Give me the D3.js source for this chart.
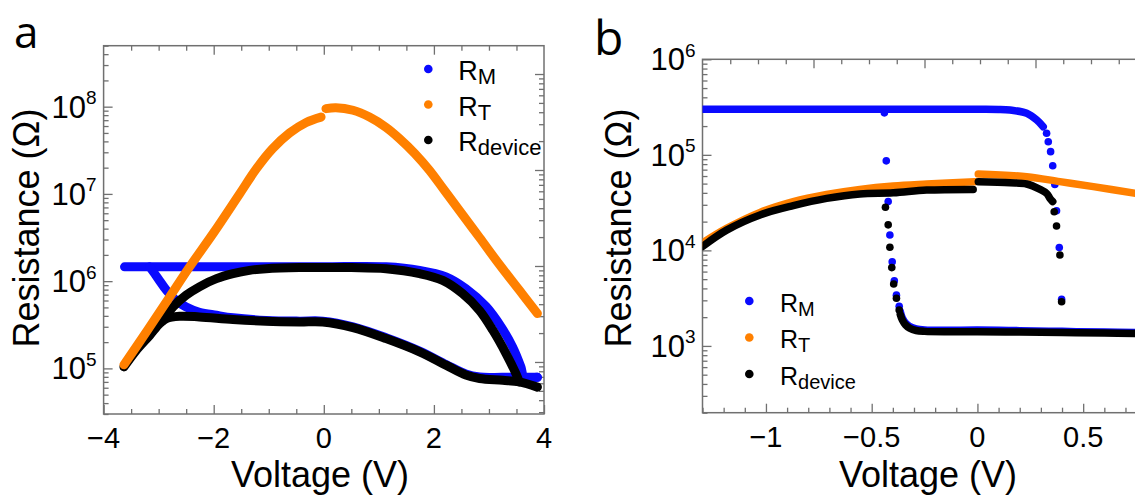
<!DOCTYPE html>
<html>
<head>
<meta charset="utf-8">
<script src="https://cdn.jsdelivr.net/npm/d3@7"></script>
<style>
body{margin:0;background:#fff;}
svg{display:block;font-family:"Liberation Sans",Arial,sans-serif;}
.frame{fill:none;stroke:#707070;stroke-width:1.5;}
.ticks line{stroke:#707070;stroke-width:1.3;}
.curve{fill:none;stroke-linecap:round;stroke-linejoin:round;}
</style>
</head>
<body>
<svg width="1135" height="495"></svg>
<script>
// panel a, [voltage V, resistance ohm]
var aRT_neg = [[-3.63,1.1e5],[-3.2,2.75e5],[-2.8,6.6e5],[-2.44,1.45e6],[-2.0,3.6e6],[-1.53,1.0e7],
               [-1.23,1.92e7],[-0.93,3.3e7],[-0.62,5.0e7],[-0.32,6.6e7],[-0.05,7.6e7]];
var aRT_pos = [[0.04,9.5e7],[0.22,9.75e7],[0.53,9.1e7],[0.83,7.6e7],[1.13,5.8e7],[1.37,4.34e7],
               [1.65,2.92e7],[1.92,1.86e7],[2.19,1.1e7],[2.46,6.5e6],[2.83,3.15e6],[3.19,1.55e6],
               [3.55,7.9e5],[3.88,4.26e5]];
var aRM_set = [[-3.62,1.46e6],[-2.5,1.46e6],[-1.0,1.46e6],[0.0,1.46e6],[1.13,1.46e6],[1.74,1.33e6],
               [2.22,1.12e6],[2.58,8.2e5],[2.95,5.1e5],[3.22,3.0e5],[3.43,1.76e5],[3.58,1.04e5],
               [3.64,8.0e4],[3.88,7.9e4]];
var aRM_reset = [[-3.16,1.46e6],[-3.01,1.07e6],[-2.86,7.9e5],[-2.68,6.0e5],[-2.5,5.06e5],[-2.26,4.4e5],
                 [-1.95,4.06e5],[-1.65,3.8e5],[-1.05,3.55e5],[-0.44,3.48e5],[-0.02,3.48e5],[0.53,3.0e5],
                 [1.13,2.25e5],[1.74,1.58e5],[2.22,1.11e5],[2.58,8.6e4],[2.83,7.95e4],[3.25,7.9e4],[3.88,7.9e4]];
var aRdev_lo = [[-3.63,1.04e5],[-3.41,1.6e5],[-3.16,2.4e5],[-2.98,3.27e5],[-2.86,3.73e5],[-2.62,3.96e5],
                [-2.26,3.89e5],[-1.65,3.63e5],[-1.05,3.47e5],[-0.44,3.41e5],[-0.02,3.41e5],[0.53,2.94e5],
                [1.13,2.2e5],[1.74,1.55e5],[2.22,1.09e5],[2.58,8.4e4],[2.83,7.66e4],[3.25,7.3e4],
                [3.55,7.0e4],[3.88,6.1e4]];
var aRdev_hi = [[-2.93,3.5e5],[-2.74,5.06e5],[-2.5,6.9e5],[-2.26,8.6e5],[-1.95,1.07e6],[-1.65,1.22e6],
                [-1.35,1.33e6],[-1.05,1.39e6],[-0.44,1.43e6],[0.5,1.43e6],[1.13,1.39e6],[1.74,1.22e6],
                [2.16,1.02e6],[2.52,7.2e5],[2.83,4.6e5],[3.07,2.74e5],[3.31,1.48e5],[3.49,8.7e4],[3.55,7.0e4]];

// panel b
var bRM_hi = [[-1.3,3.0e5],[-0.8,3.0e5],[-0.3,3.0e5],[0.0,3.0e5],[0.1,2.99e5],[0.154,2.94e5],
              [0.233,2.72e5],[0.28,2.32e5],[0.311,1.97e5]];
var bRM_lo = [[-0.365,2.3e3],[-0.355,1.95e3],[-0.34,1.74e3],[-0.32,1.6e3],[-0.29,1.51e3],[-0.25,1.47e3],
              [-0.15,1.455e3],[0,1.465e3],[0.2,1.445e3],[0.4,1.42e3],[0.6,1.395e3],[0.76,1.38e3]];
var bRM_dots = [[-0.44,2.75e5],[-0.431,8.65e4],[-0.422,3.24e4],[-0.414,1.45e4],[-0.403,7.6e3],
                [-0.393,4.8e3],[-0.383,3.4e3],[-0.37,2.6e3],[0.327,1.68e5],[0.335,1.37e5],[0.346,1.08e5],
                [0.356,7.7e4],[0.366,4.9e4],[0.374,2.6e4],[0.387,1.07e4],[0.398,3.08e3]];
var bRT_neg = [[-1.3,1.2e4],[-1.186,1.7e4],[-1.028,2.5e4],[-0.871,3.24e4],[-0.713,3.85e4],
               [-0.556,4.35e4],[-0.398,4.72e4],[-0.24,4.95e4],[-0.012,5.24e4]];
var bRT_pos = [[0.004,6.3e4],[0.233,5.9e4],[0.39,5.24e4],[0.548,4.65e4],[0.75,3.94e4]];
var bRdev_neg = [[-1.3,1.1e4],[-1.186,1.63e4],[-1.028,2.35e4],[-0.871,2.94e4],[-0.713,3.5e4],
                 [-0.556,3.9e4],[-0.398,4.0e4],[-0.24,4.28e4],[-0.02,4.35e4]];
var bRdev_pos = [[0.004,5.24e4],[0.154,5.1e4],[0.233,4.95e4],[0.296,4.35e4],[0.327,3.95e4],
                 [0.343,3.5e4],[0.356,3.24e4]];
var bRdev_lo = [[-0.365,2.14e3],[-0.355,1.86e3],[-0.34,1.66e3],[-0.32,1.53e3],[-0.29,1.45e3],
                [-0.25,1.42e3],[-0.15,1.405e3],[0,1.41e3],[0.2,1.395e3],[0.4,1.38e3],[0.6,1.365e3],[0.76,1.35e3]];
var bRdev_dots = [[-0.435,2.83e4],[-0.422,1.85e4],[-0.414,1.08e4],[-0.405,6.6e3],[-0.396,4.45e3],
                  [-0.383,3.15e3],[-0.37,2.38e3],[0.363,2.54e4],[0.374,1.8e4],[0.39,8.95e3],[0.398,2.9e3]];

var aXTicks = [-4,-2,0,2,4];
var aYTicks = [1e5,1e6,1e7,1e8];
var bXTicks = [-1,-0.5,0,0.5];
var bYTicks = [1e3,1e4,1e5,1e6];
var legendSubs = ["M","T","device"];
var seriesColors = ["#0a0aff","#ff8000","#000000"];

var svg = d3.select("svg");

var makeTranslateString = function(x,y)
{
    return "translate("+x+","+y+")";
}
var fmtV = function(v)
{
    return (v<0?"\u2212":"")+Math.abs(v);
}
var logMinor = function(dom)
{
    var out=[];
    for(var e=Math.floor(Math.log10(dom[0]));e<=Math.ceil(Math.log10(dom[1]));e++)
    {
        for(var m=2;m<=9;m++)
        {
            var v=m*Math.pow(10,e);
            if(v>=dom[0]*0.999 && v<=dom[1]*1.001) out.push(v);
        }
    }
    return out;
}
var logMajor = function(dom)
{
    var out=[];
    for(var e=Math.ceil(Math.log10(dom[0])-1e-6);e<=Math.floor(Math.log10(dom[1])+1e-6);e++)
        out.push(Math.pow(10,e));
    return out;
}
var drawTicks = function(axis,translate)
{
    svg.append("g")
       .classed("ticks",true)
       .attr("transform",translate)
       .call(axis)
       .call(function(g){ g.select(".domain").remove(); g.selectAll("text").remove(); });
}
var lineFor = function(xs,ys)
{
    return d3.line()
        .x(function(d){ return xs(d[0]); })
        .y(function(d){ return ys(d[1]); })
        .curve(d3.curveCatmullRom.alpha(0.5));
}

var drawPanel = function(p)
{
    var x=p.x, y=p.y;
    var L=x.range()[0], R=x.range()[1], T=y.range()[1], B=y.range()[0];
    var xMinor=d3.range(x.domain()[0],x.domain()[1]+1e-9,p.xMinorStep)
        .filter(function(v){ return Math.abs(v/p.xMajorStep-Math.round(v/p.xMajorStep))>1e-6; });
    var xMajor=d3.range(Math.ceil(x.domain()[0]/p.xMajorStep)*p.xMajorStep,x.domain()[1]+1e-9,p.xMajorStep);

    drawTicks(d3.axisBottom(x).tickValues(xMinor).tickSize(-5),makeTranslateString(0,B));
    drawTicks(d3.axisBottom(x).tickValues(xMajor).tickSize(-9),makeTranslateString(0,B));
    drawTicks(d3.axisTop(p.xTop).tickValues(p.xTopMinor).tickSize(-5),makeTranslateString(0,T));
    drawTicks(d3.axisTop(p.xTop).tickValues(p.xTopMajor).tickSize(-9),makeTranslateString(0,T));
    drawTicks(d3.axisLeft(y).tickValues(logMinor(y.domain())).tickSize(-5),makeTranslateString(L,0));
    drawTicks(d3.axisLeft(y).tickValues(logMajor(y.domain())).tickSize(-9),makeTranslateString(L,0));
    if(p.yRight)
    {
        drawTicks(d3.axisRight(p.yRight).tickValues(logMinor(p.yRight.domain())).tickSize(-5),makeTranslateString(R,0));
        drawTicks(d3.axisRight(p.yRight).tickValues(logMajor(p.yRight.domain())).tickSize(-9),makeTranslateString(R,0));
    }

    svg.append("rect").classed("frame",true)
       .attr("x",L).attr("y",T).attr("width",R-L).attr("height",B-T);

    var clipId="clip"+p.name;
    svg.append("clipPath").attr("id",clipId)
       .append("rect").attr("x",L).attr("y",T).attr("width",R-L).attr("height",B-T);
    var plot=svg.append("g").attr("clip-path","url(#"+clipId+")");
    var line=lineFor(x,y);

    p.layers.forEach(function(layer)
    {
        plot.selectAll(null)
            .data(layer.lines)
            .enter()
            .append("path")
            .classed("curve",true)
            .attr("d",line)
            .attr("stroke",layer.color)
            .attr("stroke-width",p.lineWidth);
        if(layer.dots)
        {
            plot.selectAll(null)
                .data(layer.dots)
                .enter()
                .append("circle")
                .attr("cx",function(d){ return x(d[0]); })
                .attr("cy",function(d){ return y(d[1]); })
                .attr("r",p.dotR)
                .attr("fill",layer.color);
        }
    });

    // tick labels
    svg.append("g").selectAll("text")
       .data(p.xTicks).enter().append("text")
       .attr("x",function(d){ return x(d); })
       .attr("y",p.xLabelY)
       .attr("text-anchor","middle")
       .style("font-size","29px")
       .text(fmtV);
    var yl=svg.append("g").selectAll("text")
       .data(p.yTicks).enter().append("text")
       .attr("x",L-7)
       .attr("y",function(d){ return y(d)+11; })
       .attr("text-anchor","end")
       .style("font-size","31px");
    yl.append("tspan").text("10");
    yl.append("tspan").attr("dy",-13.5).style("font-size","19px")
      .text(function(d){ return Math.round(Math.log10(d)); });

    // titles
    svg.append("text")
       .attr("x",p.titleX).attr("y",487)
       .attr("text-anchor","middle")
       .style("font-size","36px")
       .text("Voltage (V)");
    svg.append("text")
       .attr("transform",makeTranslateString(p.yTitleX,228)+" rotate(-90)")
       .attr("text-anchor","middle")
       .style("font-size","36px")
       .text("Resistance (\u03A9)");
    svg.append("text")
       .attr("x",p.letterX).attr("y",p.letterY)
       .style("font-family","'Open Sans',sans-serif")
       .style("font-size",p.letterSize+"px")
       .text(p.name);

    // legend
    var lg=svg.append("g").attr("transform",makeTranslateString(p.legX,p.legY));
    var entries=lg.selectAll("g")
       .data(legendSubs).enter().append("g")
       .attr("transform",function(d,i){ return makeTranslateString(0,i*p.legStep); });
    entries.append("circle")
       .attr("r",4.3)
       .attr("fill",function(d,i){ return seriesColors[i]; });
    var lt=entries.append("text")
       .attr("x",p.legTextDx).attr("y",p.legBase)
       .style("font-size",p.legFont+"px");
    lt.append("tspan").text("R");
    lt.append("tspan").attr("dy",4).style("font-size",p.legSub+"px")
      .text(function(d){ return d; });
}

var initGraph = function()
{
    var xA=d3.scaleLinear().domain([-4,4]).range([103.6,544]);
    var yA=d3.scaleLog().domain([3e4,5e8]).range([414,45.7]);
    var yA2=d3.scaleLog().domain([Math.pow(10,4.458),Math.pow(10,8.295)]).range([414,45.7]);

    drawPanel({
        name:"a", x:xA, y:yA, yRight:yA2,
        xMinorStep:0.5, xMajorStep:2,
        xTop:xA, xTopMinor:d3.range(-3.5,4,0.5).filter(function(v){ return v%2!==0; }), xTopMajor:[-2,0,2],
        xTicks:aXTicks, yTicks:aYTicks, xLabelY:448,
        lineWidth:9, dotR:4.5,
        layers:[
            {color:seriesColors[0], lines:[aRM_set,aRM_reset]},
            {color:seriesColors[2], lines:[aRdev_lo,aRdev_hi]},
            {color:seriesColors[1], lines:[aRT_neg,aRT_pos]}
        ],
        titleX:320, yTitleX:38.5, letterX:14, letterY:47.5, letterSize:44,
        legX:428.3, legY:69, legStep:35.5, legTextDx:30, legBase:11, legFont:27, legSub:22
    });

    var xB=d3.scaleLinear().domain([-1.3,0.85]).range([702.5,1157.2]);
    var yB=d3.scaleLog().domain([200,1e6]).range([412.7,59.3]);
    var xB2=d3.scaleLinear().domain([-1,3]).range([702.5,1146.5]);
    drawPanel({
        name:"b", x:xB, y:yB, yRight:null,
        xMinorStep:0.1, xMajorStep:0.5,
        xTop:xB2, xTopMinor:d3.range(-0.75,3,0.25).filter(function(v){ return v%1!==0; }), xTopMajor:[0,1,2],
        xTicks:bXTicks, yTicks:bYTicks, xLabelY:447,
        lineWidth:7.5, dotR:3.8,
        layers:[
            {color:seriesColors[0], lines:[bRM_hi,bRM_lo], dots:bRM_dots},
            {color:seriesColors[1], lines:[bRT_neg,bRT_pos]},
            {color:seriesColors[2], lines:[bRdev_neg,bRdev_pos,bRdev_lo], dots:bRdev_dots}
        ],
        titleX:928, yTitleX:631, letterX:594, letterY:55, letterSize:48,
        legX:749.3, legY:301, legStep:36.5, legTextDx:30.7, legBase:10.5, legFont:25, legSub:20
    });
}

initGraph();
</script>
</body>
</html>
